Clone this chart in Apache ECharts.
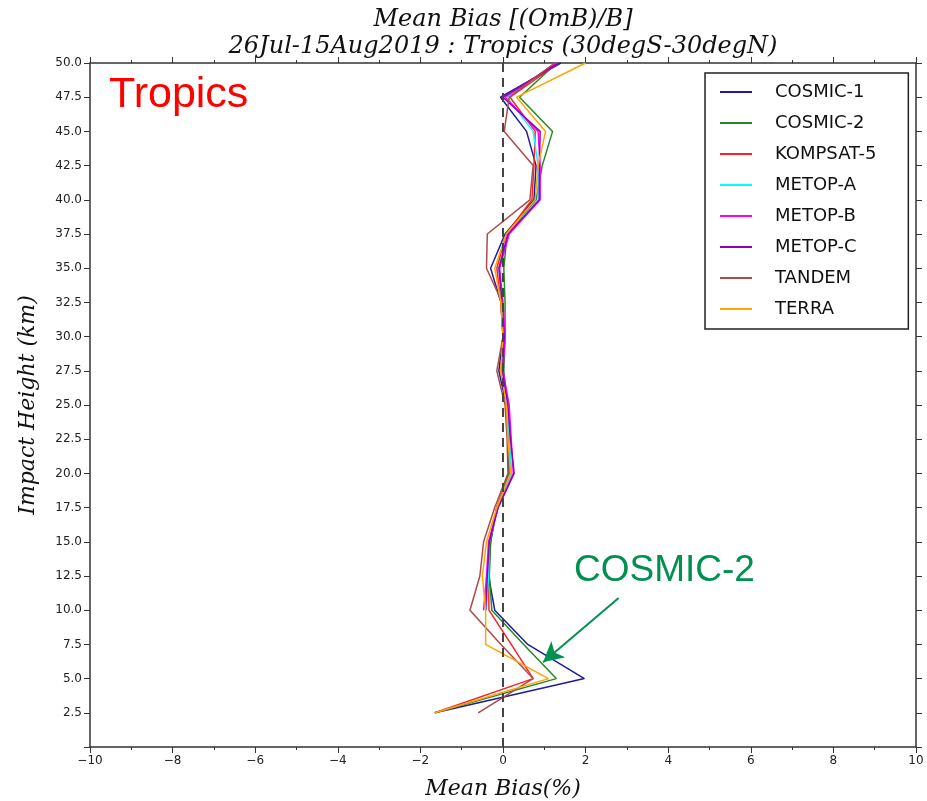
<!DOCTYPE html>
<html>
<head>
<meta charset="utf-8">
<script src="https://cdn.jsdelivr.net/npm/echarts@6/dist/echarts.min.js"></script>
<style>
  html, body { margin: 0; padding: 0; background: #fff; }
  #chart { width: 927px; height: 801px; }
</style>
</head>
<body>
<div id="chart"></div>
<script>
// impact heights (km) at which each profile is sampled
const heights = [2.5, 5, 7.5, 10, 12.5, 15, 17.5, 20, 22.5, 25, 27.5, 30, 32.5, 35, 37.5, 40, 42.5, 45, 47.5, 50];

// mean bias (%) per mission, bottom to top; null = no data at that level
const cosmic1 = [-1.65, 1.97, 0.6, -0.2, -0.35, -0.3, -0.15, 0.15, 0.12, 0.08, -0.1, 0.0, -0.05, -0.3, 0.05, 0.75, 0.8, 0.57, -0.06, 1.4];
const cosmic2 = [-1.65, 1.29, 0.5, -0.27, -0.33, -0.3, -0.15, 0.15, 0.15, 0.1, 0.02, 0.05, 0.05, 0.02, 0.1, 0.8, 0.95, 1.2, 0.4, 1.3];
const kompsat5 = [-1.65, 0.73, 0.2, -0.34, -0.35, -0.33, -0.15, 0.2, 0.15, 0.1, -0.05, 0.0, -0.05, -0.15, 0.08, 0.7, 0.75, 0.78, 0.17, 1.35];
const metopA = [null, null, null, -0.4, -0.35, -0.33, -0.12, 0.2, 0.15, 0.1, -0.02, 0.02, -0.02, -0.1, 0.12, 0.85, 0.85, 0.73, 0.1, 1.3];
const metopB = [null, null, null, -0.47, -0.4, -0.35, -0.12, 0.25, 0.2, 0.15, 0.0, 0.05, 0.0, -0.08, 0.15, 0.9, 0.9, 0.85, 0.05, 1.3];
const metopC = [null, null, null, -0.42, -0.38, -0.33, -0.12, 0.27, 0.18, 0.12, -0.02, 0.03, -0.02, -0.1, 0.12, 0.88, 0.88, 0.9, 0.0, 1.35];
const tandem = [-0.6, 0.73, -0.05, -0.8, -0.56, -0.47, -0.2, 0.12, 0.1, 0.05, -0.15, 0.0, -0.02, -0.4, -0.38, 0.65, 0.73, 0.03, 0.15, 1.25];
const terra = [-1.65, 1.1, -0.42, -0.42, -0.5, -0.4, -0.15, 0.18, 0.12, 0.08, -0.05, 0.0, -0.05, -0.2, 0.08, 0.78, 0.85, 1.03, 0.33, 2.0];

const missions = [
    { name: 'COSMIC-1', values: cosmic1, color: '#1c1c9c' },
    { name: 'COSMIC-2', values: cosmic2, color: '#228b22' },
    { name: 'KOMPSAT-5', values: kompsat5, color: '#ff2222' },
    { name: 'METOP-A', values: metopA, color: '#00ffff' },
    { name: 'METOP-B', values: metopB, color: '#ff00ff' },
    { name: 'METOP-C', values: metopC, color: '#9400b8' },
    { name: 'TANDEM', values: tandem, color: '#b04a48' },
    { name: 'TERRA', values: terra, color: '#ffa500' },
];

// annotation arrow, in data units (bias, height)
const arrowFrom = [2.8, 10.9];
const arrowTo = [0.97, 6.2];

const chart = echarts.init(document.getElementById('chart'));

const minus = v => String(v).replace('-', '\u2212');
const tickColor = '#333';

const xAxisBase = {
    type: 'value',
    min: -10,
    max: 10,
    interval: 2,
    splitLine: { show: false },
    axisLine: { onZero: false, lineStyle: { color: tickColor, width: 1.5 } },
    axisTick: { inside: false, length: 6, lineStyle: { color: tickColor, width: 1 } },
    minorTick: { show: true, splitNumber: 2, length: 3, lineStyle: { color: tickColor } },
};
const yAxisBase = {
    type: 'value',
    min: 0,
    max: 50,
    interval: 2.5,
    splitLine: { show: false },
    axisLine: { onZero: false, lineStyle: { color: tickColor, width: 1.5 } },
    axisTick: { inside: false, length: 6, lineStyle: { color: tickColor, width: 1 } },
};

const series = missions.map(m => ({
    name: m.name,
    type: 'line',
    xAxisIndex: 0,
    yAxisIndex: 0,
    showSymbol: false,
    symbol: 'none',
    animation: false,
    lineStyle: { color: m.color, width: 1.5 },
    itemStyle: { color: m.color },
    data: heights
        .map((h, i) => [m.values[i], h])
        .filter(p => p[0] !== null),
}));

// zero reference line and the COSMIC-2 arrow
series.push({
    type: 'line',
    data: [],
    xAxisIndex: 0,
    yAxisIndex: 0,
    markLine: {
        silent: true,
        animation: false,
        label: { show: false },
        data: [
            [
                { coord: [0, 0], symbol: 'none', lineStyle: { color: '#444', width: 2, type: [9, 6] } },
                { coord: [0, 50], symbol: 'none' },
            ],
            [
                { coord: arrowFrom, symbol: 'none', lineStyle: { color: '#009050', width: 2, type: 'solid' } },
                { coord: arrowTo, symbol: 'arrow', symbolSize: [16, 20] },
            ],
        ],
    },
});

chart.setOption({
    animation: false,
    grid: { left: 90, right: 11, top: 63, bottom: 54 },
    xAxis: [
        {
            ...xAxisBase,
            position: 'bottom',
            axisLabel: {
                color: '#222',
                fontFamily: 'DejaVu Sans',
                fontSize: 12,
                margin: 8,
                formatter: minus,
            },
        },
        { ...xAxisBase, position: 'top', axisLabel: { show: false } },
    ],
    yAxis: [
        {
            ...yAxisBase,
            position: 'left',
            axisLabel: {
                color: '#222',
                fontFamily: 'DejaVu Sans',
                fontSize: 12,
                margin: 8,
                formatter: v => (v === 0 ? '' : v.toFixed(1)),
            },
        },
        { ...yAxisBase, position: 'right', axisLabel: { show: false } },
    ],
    legend: {
        orient: 'vertical',
        left: 705,
        top: 73,
        padding: [9, 32, 10, 15],
        itemGap: 11,
        itemWidth: 32,
        itemHeight: 2,
        icon: 'rect',
        borderColor: '#222',
        borderWidth: 1.5,
        backgroundColor: '#fff',
        data: missions.map(m => m.name),
        textStyle: {
            color: '#111',
            fontFamily: 'DejaVu Sans',
            fontSize: 18,
            lineHeight: 20,
            padding: [0, 0, 0, 18],
        },
    },
    graphic: [
        {
            type: 'text',
            x: 503,
            y: 20,
            style: {
                text: 'Mean Bias [(OmB)/B]',
                font: 'italic 24px "DejaVu Serif"',
                fill: '#111',
                textAlign: 'center',
                textVerticalAlign: 'middle',
            },
        },
        {
            type: 'text',
            x: 503,
            y: 47,
            style: {
                text: '26Jul-15Aug2019 : Tropics (30degS-30degN)',
                font: 'italic 24px "DejaVu Serif"',
                fill: '#111',
                textAlign: 'center',
                textVerticalAlign: 'middle',
            },
        },
        {
            type: 'text',
            x: 503,
            y: 789,
            style: {
                text: 'Mean Bias(%)',
                font: 'italic 22px "DejaVu Serif"',
                fill: '#111',
                textAlign: 'center',
                textVerticalAlign: 'middle',
            },
        },
        {
            type: 'text',
            x: 28,
            y: 405,
            rotation: Math.PI / 2,
            style: {
                text: 'Impact Height (km)',
                font: 'italic 22px "DejaVu Serif"',
                fill: '#111',
                textAlign: 'center',
                textVerticalAlign: 'middle',
            },
        },
        {
            type: 'text',
            x: 109,
            y: 95,
            style: {
                text: 'Tropics',
                font: '43px "Liberation Sans"',
                fill: '#ff0000',
                textAlign: 'left',
                textVerticalAlign: 'middle',
            },
        },
        {
            type: 'text',
            x: 574,
            y: 571,
            style: {
                text: 'COSMIC-2',
                font: '37px "Liberation Sans"',
                fill: '#009050',
                textAlign: 'left',
                textVerticalAlign: 'middle',
            },
        },
    ],
    series,
});
</script>
</body>
</html>
